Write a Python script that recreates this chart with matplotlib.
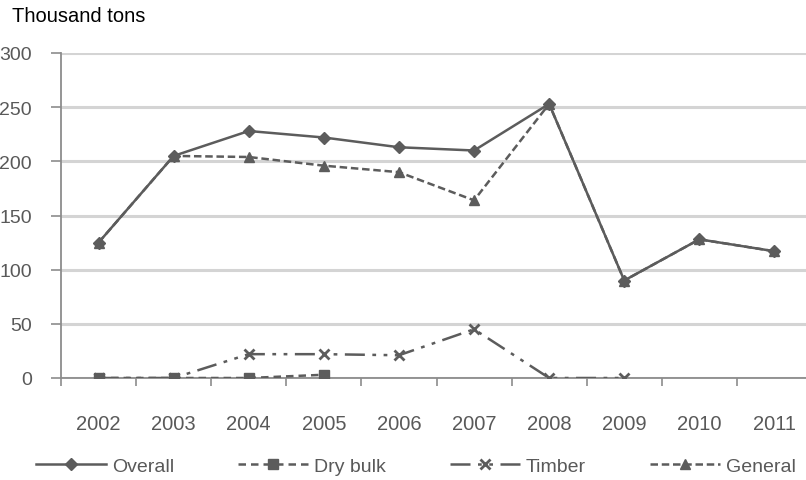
import numpy as np
import matplotlib
matplotlib.use("Agg")
import matplotlib.pyplot as plt
from matplotlib.ticker import FixedLocator

plt.rcParams['font.family'] = ['Liberation Sans', 'DejaVu Sans']

years = ['2002', '2003', '2004', '2005', '2006', '2007', '2008', '2009', '2010', '2011']
overall = [125, 205, 228, 222, 213, 210, 253, 90, 128, 117]
dry_bulk = [0, 0, 0, 3, np.nan, np.nan, np.nan, np.nan, np.nan, np.nan]
timber = [0, 0, 22, 22, 21, 45, 0, 0, np.nan, np.nan]
general = [125, 205, 204, 196, 190, 164, 253, 90, 128, 117]
y_ticks = [0, 50, 100, 150, 200, 250, 300]

W, H = 806, 481
fig = plt.figure(figsize=(W / 100, H / 100), dpi=100)
ax = fig.add_axes([61 / W, 1 - 379 / H, 751 / W, 325 / H])

x = np.arange(len(years))
line_col = '#5c5c5c'
text_col = '#595959'
lw = 1.8

ax.plot(x, overall, color=line_col, lw=lw, ls='-', marker='D', ms=6,
        label='Overall', zorder=4)
ax.plot(x, dry_bulk, color=line_col, lw=lw, ls=(0, (3, 2)), marker='s', ms=7,
        label='Dry bulk', zorder=3)
ax.plot(x, timber, color=line_col, lw=lw, ls=(0, (8, 3, 1.5, 3, 1.5, 3)),
        marker='x', ms=7, mew=2, label='Timber', zorder=3)
ax.plot(x, general, color=line_col, lw=lw, ls=(0, (3, 1.5)), marker='^', ms=7,
        label='General', zorder=3)

ax.set_xlim(-0.5, len(years) - 0.5)
ax.set_ylim(0, 300)
ax.set_yticks(y_ticks)
ax.set_xticks(x)
ax.set_xticklabels(years)
ax.xaxis.set_minor_locator(FixedLocator(np.arange(-0.5, len(years), 1.0)))

ax.grid(axis='y', color='#d4d4d4', lw=2.2, zorder=0)
ax.set_axisbelow(True)
for side in ('top', 'right'):
    ax.spines[side].set_visible(False)
for side in ('left', 'bottom'):
    ax.spines[side].set_color('#8c8c8c')
    ax.spines[side].set_linewidth(1.3)

ax.tick_params(axis='y', length=7, width=1.2, color='#8c8c8c', pad=14,
               labelsize=14, labelcolor=text_col)
ax.tick_params(axis='x', which='major', length=0, pad=26,
               labelsize=14.5, labelcolor=text_col)
ax.tick_params(axis='x', which='minor', length=6, width=1.2, color='#8c8c8c')

fig.text(12 / W, 1 - 22 / H, 'Thousand tons', fontsize=14.5, color='black',
         ha='left', va='baseline')

fig.legend(loc='center', bbox_to_anchor=(416 / W, 1 - 467 / H), ncol=4,
           frameon=False, fontsize=14, labelcolor=text_col,
           handlelength=3.6, handletextpad=0.3, columnspacing=3.3)

fig.savefig('out.png', dpi=100, facecolor='white')
